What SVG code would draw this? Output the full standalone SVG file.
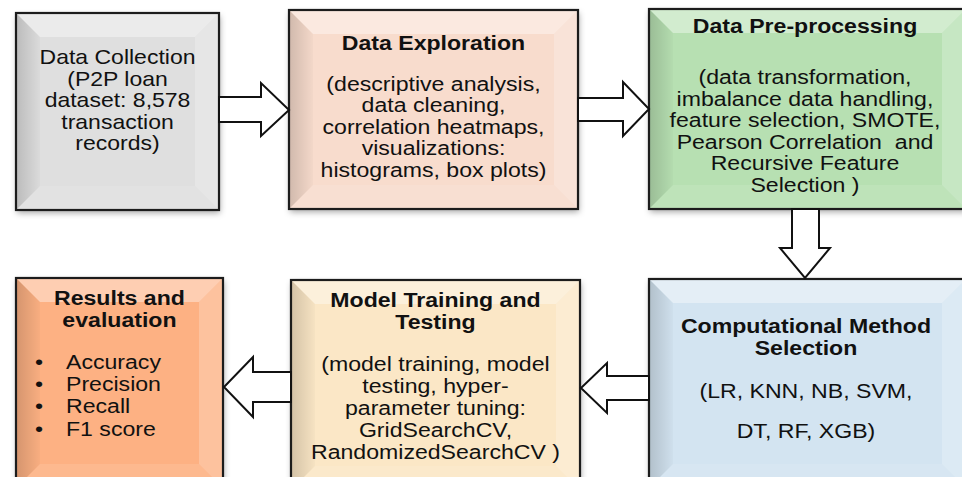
<svg xmlns="http://www.w3.org/2000/svg" width="962" height="477" viewBox="0 0 962 477">
<style>
.bg{fill:#fff}
.edge{fill:none;stroke:#1c1c1c;stroke-width:2.2}
.shadow{fill:#000;fill-opacity:.35}
.ftop{fill:#fff;fill-opacity:.38}
.fright{fill:#fff;fill-opacity:.22}
.fbottom{fill:#fff;fill-opacity:.1}
.fleft{fill:url(#leftShade)}
.t{font-family:"Liberation Sans",Arial,Helvetica,sans-serif;font-size:21px;fill:#111;text-anchor:middle}
.sm{font-size:20px}
.s{text-anchor:start}
.b{font-weight:bold}
.arrow{fill:#fff;stroke:#111;stroke-width:2;stroke-linejoin:miter}
</style>
<defs>
<filter id="blur" x="-10%" y="-10%" width="120%" height="130%">
<feGaussianBlur stdDeviation="3"/>
</filter>
<linearGradient id="leftShade" x1="0" y1="0" x2="1" y2="0">
<stop offset="0" stop-color="#000" stop-opacity=".16"/>
<stop offset="1" stop-color="#000" stop-opacity=".02"/>
</linearGradient>
</defs>
<rect class="bg" x="0" y="0" width="962" height="477"/>

<g id="node-collection">
<rect class="shadow" x="17" y="16" width="203" height="197" filter="url(#blur)"/>
<rect x="16" y="13" width="203" height="197" fill="#dfdfdf"/>
<polygon class="ftop" points="16,13 219,13 195,37 40,37"/>
<polygon class="fright" points="219,13 219,210 195,186 195,37"/>
<polygon class="fbottom" points="16,210 219,210 195,186 40,186"/>
<polygon class="fleft" points="16,13 40,37 40,186 16,210"/>
<rect class="edge" x="16" y="13" width="203" height="197"/>
<g transform="scale(1.15 1)">
<text class="t sm" x="102.2" y="64">Data Collection</text>
<text class="t sm" x="102.2" y="86">(P2P loan</text>
<text class="t sm" x="102.2" y="107">dataset: 8,578</text>
<text class="t sm" x="102.2" y="129">transaction</text>
<text class="t sm" x="102.2" y="150">records)</text>
</g>
</g>

<g id="node-exploration">
<rect class="shadow" x="290" y="13" width="289" height="199" filter="url(#blur)"/>
<rect x="289" y="10" width="289" height="199" fill="#f8dccd"/>
<polygon class="ftop" points="289,10 578,10 554,34 313,34"/>
<polygon class="fright" points="578,10 578,209 554,185 554,34"/>
<polygon class="fbottom" points="289,209 578,209 554,185 313,185"/>
<polygon class="fleft" points="289,10 313,34 313,185 289,209"/>
<rect class="edge" x="289" y="10" width="289" height="199"/>
<g transform="scale(1.1 1)">
<text class="t b" x="394.1" y="50">Data Exploration</text>
<text class="t" x="394.1" y="91">(descriptive analysis,</text>
<text class="t" x="394.1" y="112.5">data cleaning,</text>
<text class="t" x="394.1" y="134">correlation heatmaps,</text>
<text class="t" x="394.1" y="155.5">visualizations:</text>
<text class="t" x="394.1" y="177">histograms, box plots)</text>
</g>
</g>

<g id="node-preprocessing">
<rect class="shadow" x="650" y="12" width="317" height="200" filter="url(#blur)"/>
<rect x="649" y="9" width="317" height="200" fill="#b7e0b2"/>
<polygon class="ftop" points="649,9 966,9 942,33 673,33"/>
<polygon class="fright" points="966,9 966,209 942,185 942,33"/>
<polygon class="fbottom" points="649,209 966,209 942,185 673,185"/>
<polygon class="fleft" points="649,9 673,33 673,185 649,209"/>
<rect class="edge" x="649" y="9" width="317" height="200"/>
<g transform="scale(1.1 1)">
<text class="t b" x="731.8" y="33">Data Pre-processing</text>
<text class="t" x="731.8" y="84">(data transformation,</text>
<text class="t" x="731.8" y="106">imbalance data handling,</text>
<text class="t" x="731.8" y="127.5">feature selection, SMOTE,</text>
<text class="t" x="731.8" y="149" xml:space="preserve">Pearson Correlation  and</text>
<text class="t" x="731.8" y="170.5">Recursive Feature</text>
<text class="t" x="731.8" y="192">Selection )</text>
</g>
</g>

<g id="node-method">
<rect class="shadow" x="650" y="282" width="317" height="209" filter="url(#blur)"/>
<rect x="649" y="279" width="317" height="209" fill="#d3e4f1"/>
<polygon class="ftop" points="649,279 966,279 942,303 673,303"/>
<polygon class="fright" points="966,279 966,488 942,464 942,303"/>
<polygon class="fbottom" points="649,488 966,488 942,464 673,464"/>
<polygon class="fleft" points="649,279 673,303 673,464 649,488"/>
<rect class="edge" x="649" y="279" width="317" height="209"/>
<g transform="scale(1.1 1)">
<text class="t b" x="732.7" y="333">Computational Method</text>
<text class="t b" x="732.7" y="355">Selection</text>
<text class="t" x="732.7" y="398">(LR, KNN, NB, SVM,</text>
<text class="t" x="732.7" y="438">DT, RF, XGB)</text>
</g>
</g>

<g id="node-training">
<rect class="shadow" x="292" y="283" width="289" height="207" filter="url(#blur)"/>
<rect x="291" y="280" width="289" height="210" fill="#fbe7c6"/>
<polygon class="ftop" points="291,280 580,280 556,304 315,304"/>
<polygon class="fright" points="580,280 580,490 556,466 556,304"/>
<polygon class="fbottom" points="291,490 580,490 556,466 315,466"/>
<polygon class="fleft" points="291,280 315,304 315,466 291,490"/>
<rect class="edge" x="291" y="280" width="289" height="210"/>
<g transform="scale(1.1 1)">
<text class="t b" x="395.9" y="307">Model Training and</text>
<text class="t b" x="395.9" y="329">Testing</text>
<text class="t" x="395.9" y="371.5">(model training, model</text>
<text class="t" x="395.9" y="393.5">testing, hyper-</text>
<text class="t" x="395.9" y="415.5">parameter tuning:</text>
<text class="t" x="395.9" y="437.5">GridSearchCV,</text>
<text class="t" x="395.9" y="459.5">RandomizedSearchCV )</text>
</g>
</g>

<g id="node-results">
<rect class="shadow" x="17" y="281" width="207" height="207" filter="url(#blur)"/>
<rect x="16" y="278" width="207" height="210" fill="#fdb183"/>
<polygon class="ftop" points="16,278 223,278 199,302 40,302"/>
<polygon class="fright" points="223,278 223,488 199,464 199,302"/>
<polygon class="fbottom" points="16,488 223,488 199,464 40,464"/>
<polygon class="fleft" points="16,278 40,302 40,464 16,488"/>
<rect class="edge" x="16" y="278" width="207" height="210"/>
<g transform="scale(1.1 1)">
<text class="t b" x="108.6" y="305">Results and</text>
<text class="t b" x="108.6" y="327">evaluation</text>
<text class="t s" x="31.8" y="369">•</text>
<text class="t s" x="60" y="369">Accuracy</text>
<text class="t s" x="31.8" y="391">•</text>
<text class="t s" x="60" y="391">Precision</text>
<text class="t s" x="31.8" y="413.5">•</text>
<text class="t s" x="60" y="413.5">Recall</text>
<text class="t s" x="31.8" y="436">•</text>
<text class="t s" x="60" y="436">F1 score</text>
</g>
</g>

<g id="connectors">
<polygon class="arrow" points="219,97 261,97 261,83 289,110 261,136 261,122 219,122"/>
<polygon class="arrow" points="578,98 623,98 623,82 649,109 623,136 623,121 578,121"/>
<polygon class="arrow" points="792,209 792,248 780,248 805,278 830,248 819,248 819,209"/>
<polygon class="arrow" points="649,376 607,376 607,363 581,388 607,413 607,400 649,400"/>
<polygon class="arrow" points="291,372 253,372 253,357 224,387 253,417 253,402 291,402"/>
</g>
</svg>
